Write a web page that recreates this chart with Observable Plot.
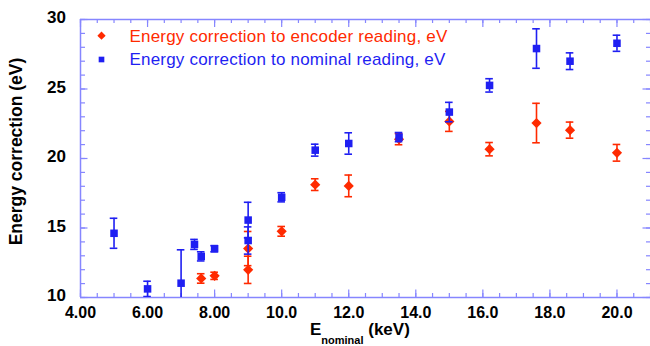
<!DOCTYPE html>
<html><head><meta charset="utf-8">
<script src="https://cdn.jsdelivr.net/npm/d3@7"></script>
<script src="https://cdn.jsdelivr.net/npm/@observablehq/plot@0.6"></script>
<style>body{margin:0;background:#fff;}</style>
</head><body><div id="chart"></div>
<script>
// Energy correction to nominal reading (blue squares)
const nominalEnergy = [5, 6, 7, 7.4, 7.6, 8, 9, 9, 10, 11, 12, 13.5, 15, 16.2, 17.6, 18.6, 20];
const nominalValue  = [14.62, 10.62, 11.03, 13.82, 12.96, 13.51, 15.57, 14.10, 17.21, 20.60, 21.08, 21.54, 23.34, 25.26, 27.91, 27.00, 28.29];
const nominalError  = [1.08, 0.55, 2.40, 0.36, 0.33, 0.22, 1.28, 0.98, 0.33, 0.43, 0.77, 0.33, 0.70, 0.48, 1.42, 0.60, 0.58];
// Energy correction to encoder reading (red diamonds)
const encoderEnergy = [7.6, 8, 9, 9, 10, 11, 12, 13.5, 15, 16.2, 17.6, 18.6, 20];
const encoderValue  = [11.37, 11.56, 13.52, 11.99, 14.76, 18.12, 18.03, 21.39, 22.67, 20.67, 22.55, 22.04, 20.41];
const encoderError  = [0.34, 0.26, 1.23, 0.98, 0.35, 0.42, 0.78, 0.40, 0.72, 0.48, 1.42, 0.58, 0.60];

const xDomain = [4, 21];
const yDomain = [10, 30];
const xTicks = [4, 6, 8, 10, 12, 14, 16, 18, 20];
const xTickLabels = ["4.00", "6.00", "8.00", "10.0", "12.0", "14.0", "16.0", "18.0", "20.0"];
const yTicks = [10, 15, 20, 25, 30];
const yTickLabels = ["10", "15", "20", "25", "30"];
const legendLabels = ["Energy correction to encoder reading, eV", "Energy correction to nominal reading, eV"];

const W = 650, H = 346, mL = 80, mT = 19, mB = 49, mR = 0;
const innerW = W - mL - mR, innerH = H - mT - mB;
const red = "#ff2a00", blue = "#1f1ff2", frameColor = "#8686ff";
const font = "'Liberation Sans', Arial, Helvetica, sans-serif";

const nominalData = nominalEnergy.map((x, i) => ({x, y: nominalValue[i], e: nominalError[i]}));
const encoderData = encoderEnergy.map((x, i) => ({x, y: encoderValue[i], e: encoderError[i]}));

const xMinor = d3.range(xDomain[0], xDomain[1] + 0.001, 0.5);
const yMinor = d3.range(yDomain[0], yDomain[1] + 0.001, 1);

function errorMarks(data, color) {
  return [
    Plot.ruleX(data, {x: "x", y1: d => d.y - d.e, y2: d => d.y + d.e, stroke: color, strokeWidth: 1.6, clip: true}),
    Plot.ruleY(data, {x1: "x", x2: "x", y: d => d.y + d.e, insetLeft: -3.8, insetRight: -3.8, stroke: color, strokeWidth: 1.6, clip: true}),
    Plot.ruleY(data, {x1: "x", x2: "x", y: d => d.y - d.e, insetLeft: -3.8, insetRight: -3.8, stroke: color, strokeWidth: 1.6, clip: true})
  ];
}

const chart = Plot.plot({
  width: W, height: H,
  marginLeft: mL, marginRight: mR, marginTop: mT, marginBottom: mB,
  x: {domain: xDomain},
  y: {domain: yDomain},
  style: {fontFamily: font, background: "white", overflow: "visible"},
  marks: [
    // ticks (inward)
    Plot.tickX(xMinor, {x: d => d, insetTop: innerH - 4, stroke: frameColor, strokeWidth: 1.2}),
    Plot.tickX(xTicks, {x: d => d, insetTop: innerH - 7.5, stroke: frameColor, strokeWidth: 1.2}),
    Plot.tickX(xMinor, {x: d => d, insetBottom: innerH - 4, stroke: frameColor, strokeWidth: 1.2}),
    Plot.tickX(xTicks, {x: d => d, insetBottom: innerH - 8, stroke: frameColor, strokeWidth: 1.2}),
    Plot.tickY(yMinor, {y: d => d, insetRight: innerW - 5, stroke: frameColor, strokeWidth: 1.2}),
    Plot.tickY(yTicks, {y: d => d, insetRight: innerW - 7.5, stroke: frameColor, strokeWidth: 1.2}),
    Plot.tickY(yMinor, {y: d => d, insetLeft: innerW - 4, stroke: frameColor, strokeWidth: 1.2}),
    Plot.tickY(yTicks, {y: d => d, insetLeft: innerW - 7.5, stroke: frameColor, strokeWidth: 1.2}),
    // frame (left, top, bottom)
    Plot.ruleX([xDomain[0]], {stroke: frameColor, strokeWidth: 1.5}),
    Plot.ruleY(yDomain, {stroke: frameColor, strokeWidth: 1.5}),
    // axes labels
    Plot.axisX({ticks: xTicks, tickFormat: d => xTickLabels[xTicks.indexOf(d)], tickSize: 0, tickPadding: 9.5,
      fontSize: 16, fontWeight: "bold", fill: "black", label: null}),
    Plot.axisY({ticks: yTicks, tickFormat: d => yTickLabels[yTicks.indexOf(d)], tickSize: 0, tickPadding: 14.5,
      fontSize: 17, fontWeight: "bold", fill: "black", dy: -1.5, label: null}),
    // data
    ...errorMarks(encoderData, red),
    Plot.dot(encoderData, {x: "x", y: "y", symbol: "diamond2", r: 4.6, fill: red, clip: true}),
    ...errorMarks(nominalData, blue),
    Plot.dot(nominalData, {x: "x", y: "y", symbol: "square", r: 4.25, fill: blue, clip: true})
  ]
});

const svg = d3.select(chart);
// Y title
svg.append("text")
  .attr("transform", "translate(21.5,151.5) rotate(-90)")
  .attr("text-anchor", "middle")
  .attr("font-family", font).attr("font-weight", "bold").attr("font-size", 17.5)
  .attr("fill", "black")
  .text("Energy correction (eV)");
// X title with subscript
const xt = svg.append("text")
  .attr("x", 310).attr("y", 335)
  .attr("text-anchor", "start")
  .attr("font-family", font).attr("font-weight", "bold").attr("font-size", 17)
  .attr("fill", "black");
xt.append("tspan").text("E");
xt.append("tspan").attr("font-size", 11).attr("dy", 8.5).text("nominal");
xt.append("tspan").attr("dy", -8.5).text(" (keV)");
// Legend
const legendColors = [red, blue];
const legendSymbols = [d3.symbol(d3.symbolDiamond2, 44), d3.symbol(d3.symbolSquare, 32)];
const legendY = [35.7, 59.5];
legendLabels.forEach((lab, i) => {
  svg.append("path").attr("d", legendSymbols[i]()).attr("transform", `translate(101.5,${legendY[i]})`)
    .attr("fill", legendColors[i]).attr("stroke", "none");
  svg.append("text").attr("x", 129.5).attr("y", legendY[i] + 5.8)
    .attr("text-anchor", "start")
    .attr("font-family", font).attr("font-size", 17).attr("letter-spacing", 0.2)
    .attr("fill", legendColors[i]).text(lab);
});

document.getElementById("chart").appendChild(chart);
</script>
</body></html>
